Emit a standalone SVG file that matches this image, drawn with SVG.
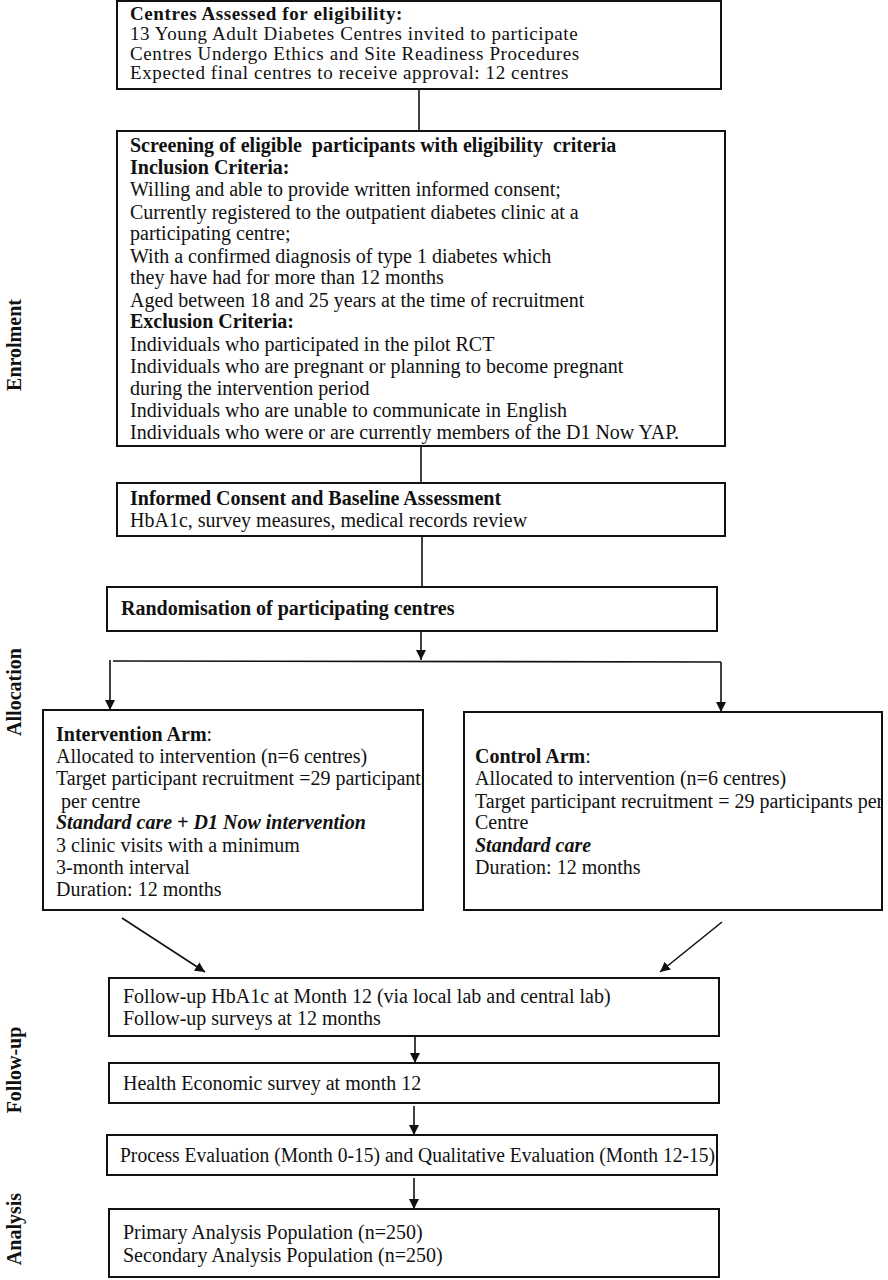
<svg xmlns="http://www.w3.org/2000/svg" width="888" height="1280" viewBox="0 0 888 1280">
<style>
text{font-family:"Liberation Serif","Times New Roman",serif;font-size:20px;fill:#111;}
.b{font-weight:bold;}
.bi{font-weight:bold;font-style:italic;}
.top{font-size:19px;letter-spacing:0.6px;}
.box{fill:#fff;stroke:#111;stroke-width:2;}
.con{fill:none;stroke:#111;stroke-width:1.6;}
.side{font-weight:bold;font-size:20px;text-anchor:middle;}
</style>
<defs>
<marker id="ah" viewBox="0 0 10 10" refX="10" refY="5" markerWidth="10" markerHeight="10" markerUnits="userSpaceOnUse" orient="auto">
<path d="M0,0 L10,5 L0,10 Z" fill="#111"/>
</marker>
<clipPath id="clipL"><rect x="43" y="700" width="380" height="220"/></clipPath>
<clipPath id="clipR"><rect x="464" y="700" width="418" height="220"/></clipPath>
</defs>
<rect width="888" height="1280" fill="#fff"/>

<g id="labels">
<text class="side" transform="translate(21,345) rotate(-90)">Enrolment</text>
<text class="side" transform="translate(21,692) rotate(-90)">Allocation</text>
<text class="side" transform="translate(21,1070) rotate(-90)">Follow-up</text>
<text class="side" transform="translate(21,1229) rotate(-90)">Analysis</text>
</g>

<g id="connectors">
<line class="con" x1="419" y1="89" x2="419" y2="131"/>
<line class="con" x1="421" y1="446" x2="421" y2="483"/>
<line class="con" x1="422" y1="536" x2="422" y2="587"/>
<line class="con" x1="421" y1="631" x2="421" y2="660" marker-end="url(#ah)"/>
<line class="con" x1="113" y1="661" x2="721" y2="662"/>
<line class="con" x1="110" y1="660" x2="110" y2="710" marker-end="url(#ah)"/>
<line class="con" x1="721" y1="662" x2="721" y2="712" marker-end="url(#ah)"/>
<line class="con" x1="122" y1="918" x2="205" y2="972" marker-end="url(#ah)"/>
<line class="con" x1="722" y1="922" x2="660" y2="972" marker-end="url(#ah)"/>
<line class="con" x1="415" y1="1036" x2="415" y2="1063" marker-end="url(#ah)"/>
<line class="con" x1="414" y1="1106" x2="414" y2="1135" marker-end="url(#ah)"/>
<line class="con" x1="414" y1="1178" x2="414" y2="1209" marker-end="url(#ah)"/>
</g>

<g id="centres">
<rect class="box" x="117" y="1" width="604" height="88"/>
<text x="130" y="20" class="b top">Centres Assessed for eligibility:</text>
<text x="130" y="40" class="top">13 Young Adult Diabetes Centres invited to participate</text>
<text x="130" y="60" class="top">Centres Undergo Ethics and Site Readiness Procedures</text>
<text x="130" y="79" class="top">Expected final centres to receive approval: 12 centres</text>
</g>

<g id="screening">
<rect class="box" x="117" y="131" width="608" height="315"/>
<text x="130" y="152" class="b" xml:space="preserve">Screening of eligible  participants with eligibility  criteria</text>
<text x="130" y="174" class="b">Inclusion Criteria:</text>
<text x="130" y="196">Willing and able to provide written informed consent;</text>
<text x="130" y="219">Currently registered to the outpatient diabetes clinic at a</text>
<text x="130" y="240">participating centre;</text>
<text x="130" y="263">With a confirmed diagnosis of type 1 diabetes which</text>
<text x="130" y="284">they have had for more than 12 months</text>
<text x="130" y="307">Aged between 18 and 25 years at the time of recruitment</text>
<text x="130" y="328" class="b">Exclusion Criteria:</text>
<text x="130" y="351">Individuals who participated in the pilot RCT</text>
<text x="130" y="373">Individuals who are pregnant or planning to become pregnant</text>
<text x="130" y="395">during the intervention period</text>
<text x="130" y="417">Individuals who are unable to communicate in English</text>
<text x="130" y="439">Individuals who were or are currently members of the D1 Now YAP.</text>
</g>

<g id="consent">
<rect class="box" x="117" y="483" width="608" height="53"/>
<text x="130" y="505" class="b">Informed Consent and Baseline Assessment</text>
<text x="130" y="527">HbA1c, survey measures, medical records review</text>
</g>

<g id="randomisation">
<rect class="box" x="107" y="587" width="610" height="44"/>
<text x="121" y="615" class="b">Randomisation of participating centres</text>
</g>

<g id="intervention">
<rect class="box" x="43" y="710" width="380" height="200"/>
<text x="56" y="741"><tspan class="b">Intervention Arm</tspan>:</text>
<text x="56" y="763">Allocated to intervention (n=6 centres)</text>
<text x="56" y="785" clip-path="url(#clipL)">Target participant recruitment =29 participants</text>
<text x="61" y="808">per centre</text>
<text x="56" y="829" class="bi">Standard care + D1 Now intervention</text>
<text x="56" y="852">3 clinic visits with a minimum</text>
<text x="56" y="874">3-month interval</text>
<text x="56" y="896">Duration: 12 months</text>
</g>

<g id="control">
<rect class="box" x="464" y="712" width="418" height="198"/>
<text x="475" y="763"><tspan class="b">Control Arm</tspan>:</text>
<text x="475" y="785">Allocated to intervention (n=6 centres)</text>
<text x="475" y="808" clip-path="url(#clipR)">Target participant recruitment = 29 participants per</text>
<text x="475" y="829">Centre</text>
<text x="475" y="852" class="bi">Standard care</text>
<text x="475" y="874">Duration: 12 months</text>
</g>

<g id="followup">
<rect class="box" x="109" y="978" width="610" height="58"/>
<text x="123" y="1003">Follow-up HbA1c at Month 12  (via local lab and central lab)</text>
<text x="123" y="1025">Follow-up surveys at 12 months</text>
</g>

<g id="economic">
<rect class="box" x="109" y="1063" width="610" height="40"/>
<text x="123" y="1090">Health Economic survey at month 12</text>
</g>

<g id="process">
<rect class="box" x="107" y="1135" width="610" height="40"/>
<text x="120" y="1162" textLength="595" lengthAdjust="spacingAndGlyphs">Process Evaluation (Month 0-15) and Qualitative Evaluation (Month 12-15)</text>
</g>

<g id="analysis">
<rect class="box" x="109" y="1209" width="610" height="68"/>
<text x="123" y="1239">Primary Analysis Population (n=250)</text>
<text x="123" y="1262">Secondary Analysis Population (n=250)</text>
</g>
</svg>
